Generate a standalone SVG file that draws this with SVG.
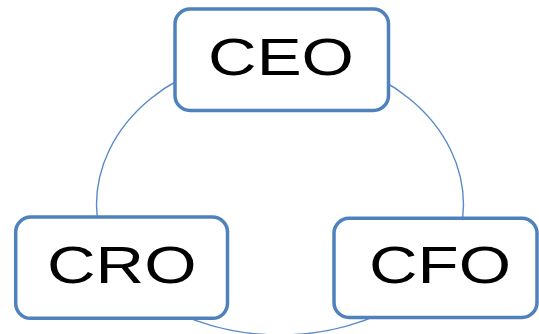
<svg xmlns="http://www.w3.org/2000/svg" width="539" height="334" viewBox="0 0 539 334">
<style>
.box{fill:#fff;stroke:#4f81bd;stroke-width:3.5}
.lbl{font-family:"Liberation Sans",Arial,sans-serif;font-size:51px;fill:#000;text-anchor:middle}
.ring{fill:none;stroke:#5a89c8;stroke-width:1.4}
</style>
<rect width="539" height="334" fill="#fff"/>
<g id="connectors">
<path class="ring" d="M 96.5 205 A 183.5 150 0 0 1 463.5 205 A 183.5 130 0 0 1 96.5 205 Z"/>
</g>
<g id="ceo">
<rect class="box" x="175" y="9" width="213.5" height="101.5" rx="15"/>
<text class="lbl" transform="translate(281 75) scale(1.32 1)">CEO</text>
</g>
<g id="cro">
<rect class="box" x="15.7" y="217" width="211.8" height="101.3" rx="15"/>
<text class="lbl" transform="translate(121.7 283.3) scale(1.32 1)">CRO</text>
</g>
<g id="cfo">
<rect class="box" x="334" y="218.3" width="203" height="99.2" rx="15"/>
<text class="lbl" transform="translate(440 283.3) scale(1.32 1)">CFO</text>
</g>
</svg>
